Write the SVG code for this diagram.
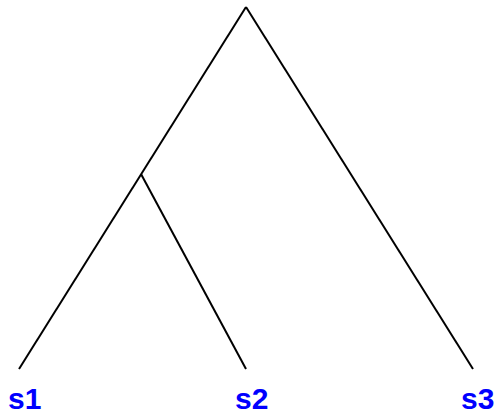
<svg xmlns="http://www.w3.org/2000/svg" width="498" height="414" viewBox="0 0 498 414">
<style>
.e{stroke:#000;stroke-width:2;fill:none}
.l{font-family:"Liberation Sans",Arial,sans-serif;font-weight:bold;font-size:30px;fill:#0000ff}
</style>
<rect width="498" height="414" fill="#fff"/>
<g id="edges">
<line class="e" x1="246" y1="7" x2="19" y2="369"/>
<line class="e" x1="246" y1="7" x2="473" y2="369"/>
<line class="e" x1="141" y1="174" x2="246" y2="369"/>
</g>
<g id="s1"><text class="l" x="8" y="409">s1</text></g>
<g id="s2"><text class="l" x="235" y="409">s2</text></g>
<g id="s3"><text class="l" x="461" y="409">s3</text></g>
</svg>
